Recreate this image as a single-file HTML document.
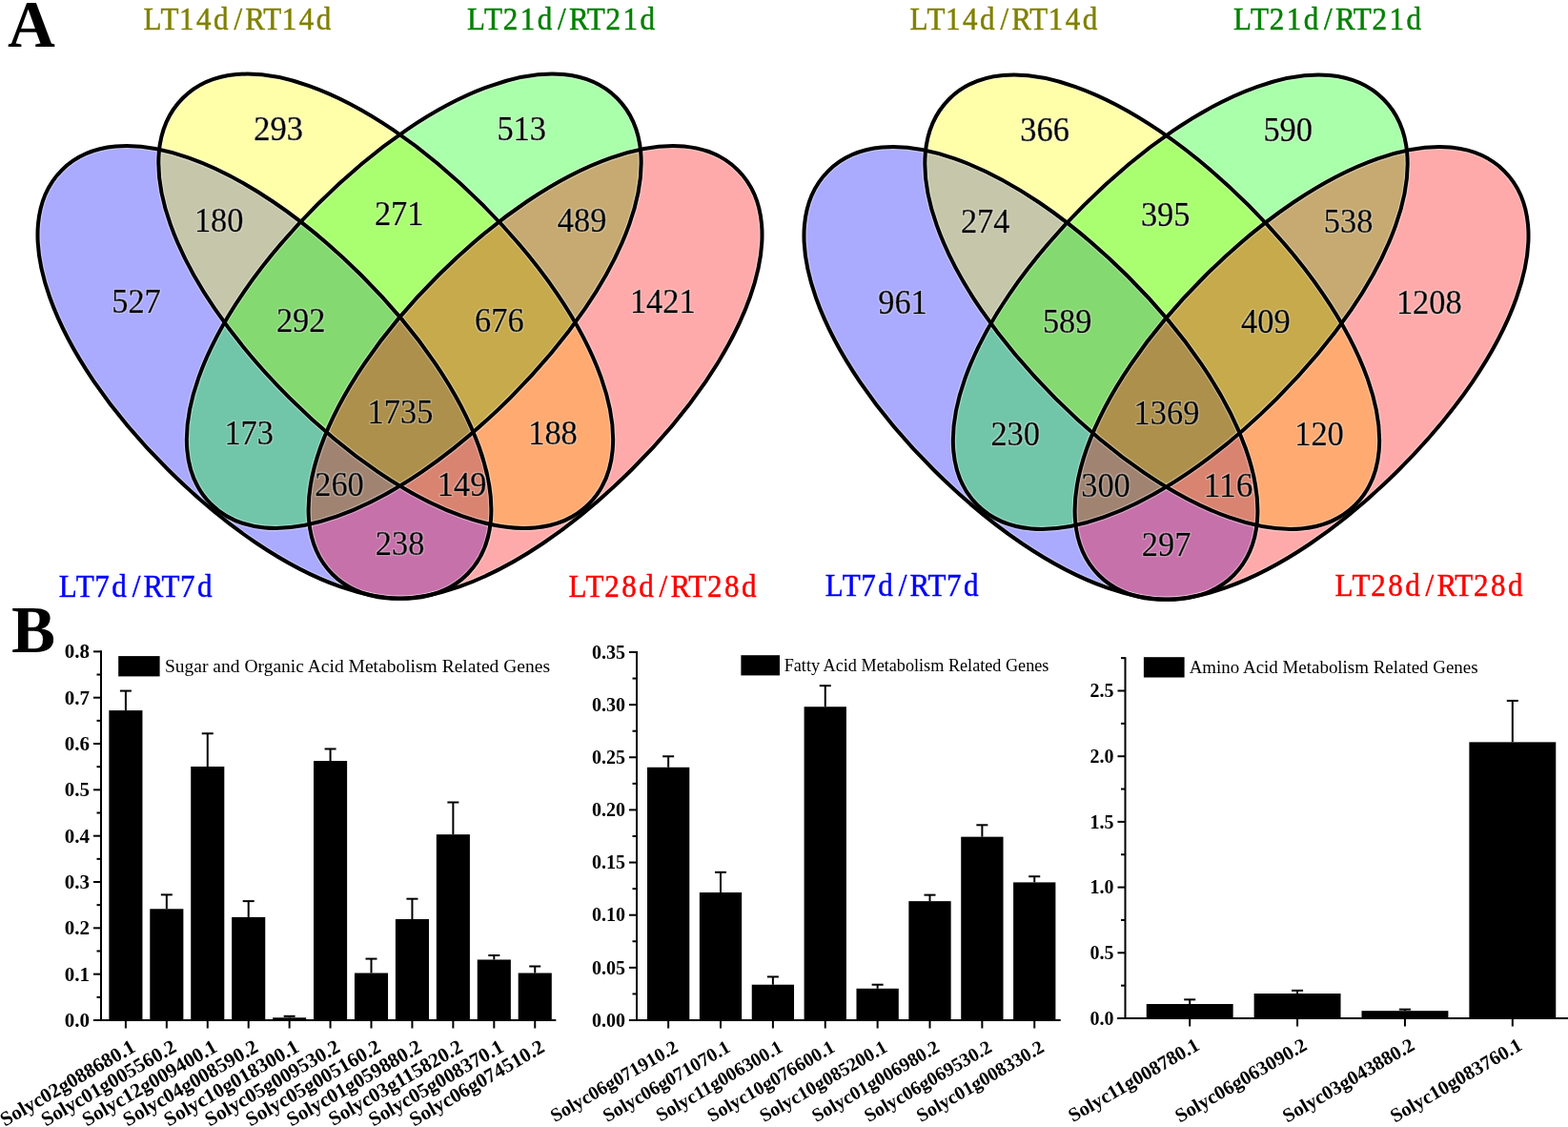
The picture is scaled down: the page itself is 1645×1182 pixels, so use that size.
<!DOCTYPE html>
<html><head><meta charset="utf-8"><title>Figure</title>
<style>html,body{margin:0;padding:0;background:#fff;}svg{display:block;}</style>
</head><body>
<svg width="1645" height="1182" viewBox="0 0 1645 1182">
<defs><filter id="halo" x="-10%" y="-20%" width="120%" height="140%"><feMorphology in="SourceAlpha" operator="dilate" radius="1.1" result="d"/><feFlood flood-color="#fff" flood-opacity="0.28"/><feComposite in2="d" operator="in" result="h"/><feMerge><feMergeNode in="h"/><feMergeNode in="SourceGraphic"/></feMerge></filter></defs>
<rect width="1645" height="1182" fill="#fff"/>
<g transform="translate(0,0)">
<path d="M300.26,0C300.26,83.27 173.94,143.75 0,143.75C-173.94,143.75 -300.26,83.27 -300.26,0C-300.26,-83.27 -173.94,-143.75 0,-143.75C173.94,-143.75 300.26,-83.27 300.26,0Z" transform="translate(277.45 390.40) rotate(44.876)" fill="#0000ff" fill-opacity="0.3333"/>
<path d="M301.11,0C301.11,83.49 175.58,143.19 0,143.19C-175.58,143.19 -301.11,83.49 -301.11,0C-301.11,-83.49 -175.58,-143.19 0,-143.19C175.58,-143.19 301.11,-83.49 301.11,0Z" transform="translate(404.74 315.74) rotate(44.959)" fill="#ffff00" fill-opacity="0.3333"/>
<path d="M301.11,0C301.11,83.49 175.58,143.19 0,143.19C-175.58,143.19 -301.11,83.49 -301.11,0C-301.11,-83.49 -175.58,-143.19 0,-143.19C175.58,-143.19 301.11,-83.49 301.11,0Z" transform="translate(434.26 315.74) rotate(-44.959)" fill="#00ff00" fill-opacity="0.3333"/>
<path d="M300.26,0C300.26,83.27 173.94,143.75 0,143.75C-173.94,143.75 -300.26,83.27 -300.26,0C-300.26,-83.27 -173.94,-143.75 0,-143.75C173.94,-143.75 300.26,-83.27 300.26,0Z" transform="translate(561.55 390.40) rotate(-44.876)" fill="#ff0000" fill-opacity="0.3333"/>
<path d="M300.26,0C300.26,83.27 173.94,143.75 0,143.75C-173.94,143.75 -300.26,83.27 -300.26,0C-300.26,-83.27 -173.94,-143.75 0,-143.75C173.94,-143.75 300.26,-83.27 300.26,0Z" transform="translate(277.45 390.40) rotate(44.876)" fill="none" stroke="#fff" stroke-opacity="0.35" stroke-width="6.4"/>
<path d="M301.11,0C301.11,83.49 175.58,143.19 0,143.19C-175.58,143.19 -301.11,83.49 -301.11,0C-301.11,-83.49 -175.58,-143.19 0,-143.19C175.58,-143.19 301.11,-83.49 301.11,0Z" transform="translate(404.74 315.74) rotate(44.959)" fill="none" stroke="#fff" stroke-opacity="0.35" stroke-width="6.4"/>
<path d="M301.11,0C301.11,83.49 175.58,143.19 0,143.19C-175.58,143.19 -301.11,83.49 -301.11,0C-301.11,-83.49 -175.58,-143.19 0,-143.19C175.58,-143.19 301.11,-83.49 301.11,0Z" transform="translate(434.26 315.74) rotate(-44.959)" fill="none" stroke="#fff" stroke-opacity="0.35" stroke-width="6.4"/>
<path d="M300.26,0C300.26,83.27 173.94,143.75 0,143.75C-173.94,143.75 -300.26,83.27 -300.26,0C-300.26,-83.27 -173.94,-143.75 0,-143.75C173.94,-143.75 300.26,-83.27 300.26,0Z" transform="translate(561.55 390.40) rotate(-44.876)" fill="none" stroke="#fff" stroke-opacity="0.35" stroke-width="6.4"/>
<path d="M300.26,0C300.26,83.27 173.94,143.75 0,143.75C-173.94,143.75 -300.26,83.27 -300.26,0C-300.26,-83.27 -173.94,-143.75 0,-143.75C173.94,-143.75 300.26,-83.27 300.26,0Z" transform="translate(277.45 390.40) rotate(44.876)" fill="none" stroke="#000" stroke-width="4.0"/>
<path d="M301.11,0C301.11,83.49 175.58,143.19 0,143.19C-175.58,143.19 -301.11,83.49 -301.11,0C-301.11,-83.49 -175.58,-143.19 0,-143.19C175.58,-143.19 301.11,-83.49 301.11,0Z" transform="translate(404.74 315.74) rotate(44.959)" fill="none" stroke="#000" stroke-width="4.0"/>
<path d="M301.11,0C301.11,83.49 175.58,143.19 0,143.19C-175.58,143.19 -301.11,83.49 -301.11,0C-301.11,-83.49 -175.58,-143.19 0,-143.19C175.58,-143.19 301.11,-83.49 301.11,0Z" transform="translate(434.26 315.74) rotate(-44.959)" fill="none" stroke="#000" stroke-width="4.0"/>
<path d="M300.26,0C300.26,83.27 173.94,143.75 0,143.75C-173.94,143.75 -300.26,83.27 -300.26,0C-300.26,-83.27 -173.94,-143.75 0,-143.75C173.94,-143.75 300.26,-83.27 300.26,0Z" transform="translate(561.55 390.40) rotate(-44.876)" fill="none" stroke="#000" stroke-width="4.0"/>
<text x="292.1" y="146.7" text-anchor="middle" textLength="51.6" lengthAdjust="spacingAndGlyphs" filter="url(#halo)" style="font-family:'Liberation Serif',serif;font-size:36px;stroke:#000;stroke-width:0.6px">293</text>
<text x="547.2" y="146.8" text-anchor="middle" textLength="51.6" lengthAdjust="spacingAndGlyphs" filter="url(#halo)" style="font-family:'Liberation Serif',serif;font-size:36px;stroke:#000;stroke-width:0.6px">513</text>
<text x="229.7" y="242.8" text-anchor="middle" textLength="51.6" lengthAdjust="spacingAndGlyphs" filter="url(#halo)" style="font-family:'Liberation Serif',serif;font-size:36px;stroke:#000;stroke-width:0.6px">180</text>
<text x="418.7" y="236.4" text-anchor="middle" textLength="51.6" lengthAdjust="spacingAndGlyphs" filter="url(#halo)" style="font-family:'Liberation Serif',serif;font-size:36px;stroke:#000;stroke-width:0.6px">271</text>
<text x="610.6" y="243.1" text-anchor="middle" textLength="51.6" lengthAdjust="spacingAndGlyphs" filter="url(#halo)" style="font-family:'Liberation Serif',serif;font-size:36px;stroke:#000;stroke-width:0.6px">489</text>
<text x="143.0" y="327.9" text-anchor="middle" textLength="51.6" lengthAdjust="spacingAndGlyphs" filter="url(#halo)" style="font-family:'Liberation Serif',serif;font-size:36px;stroke:#000;stroke-width:0.6px">527</text>
<text x="695.3" y="327.6" text-anchor="middle" textLength="68.8" lengthAdjust="spacingAndGlyphs" filter="url(#halo)" style="font-family:'Liberation Serif',serif;font-size:36px;stroke:#000;stroke-width:0.6px">1421</text>
<text x="315.7" y="348.4" text-anchor="middle" textLength="51.6" lengthAdjust="spacingAndGlyphs" filter="url(#halo)" style="font-family:'Liberation Serif',serif;font-size:36px;stroke:#000;stroke-width:0.6px">292</text>
<text x="523.9" y="348.3" text-anchor="middle" textLength="51.6" lengthAdjust="spacingAndGlyphs" filter="url(#halo)" style="font-family:'Liberation Serif',serif;font-size:36px;stroke:#000;stroke-width:0.6px">676</text>
<text x="420.0" y="444.3" text-anchor="middle" textLength="68.8" lengthAdjust="spacingAndGlyphs" filter="url(#halo)" style="font-family:'Liberation Serif',serif;font-size:36px;stroke:#000;stroke-width:0.6px">1735</text>
<text x="261.2" y="465.6" text-anchor="middle" textLength="51.6" lengthAdjust="spacingAndGlyphs" filter="url(#halo)" style="font-family:'Liberation Serif',serif;font-size:36px;stroke:#000;stroke-width:0.6px">173</text>
<text x="580.0" y="465.6" text-anchor="middle" textLength="51.6" lengthAdjust="spacingAndGlyphs" filter="url(#halo)" style="font-family:'Liberation Serif',serif;font-size:36px;stroke:#000;stroke-width:0.6px">188</text>
<text x="356.0" y="520.3" text-anchor="middle" textLength="51.6" lengthAdjust="spacingAndGlyphs" filter="url(#halo)" style="font-family:'Liberation Serif',serif;font-size:36px;stroke:#000;stroke-width:0.6px">260</text>
<text x="484.6" y="520.3" text-anchor="middle" textLength="51.6" lengthAdjust="spacingAndGlyphs" filter="url(#halo)" style="font-family:'Liberation Serif',serif;font-size:36px;stroke:#000;stroke-width:0.6px">149</text>
<text x="419.6" y="582.1" text-anchor="middle" textLength="51.6" lengthAdjust="spacingAndGlyphs" filter="url(#halo)" style="font-family:'Liberation Serif',serif;font-size:36px;stroke:#000;stroke-width:0.6px">238</text>
<text x="177.72 197.68 217.63 237.59 257.54 277.50 297.46 317.41 337.37 357.32 377.28" y="30.7" text-anchor="middle" transform="scale(0.9 1)" fill="#808000" stroke="#808000" style="font-family:'Liberation Serif',serif;font-size:34.5px;stroke-width:0.5px">LT14d/RT14d</text>
<text x="555.11 575.07 595.02 614.98 634.93 654.89 674.84 694.80 714.76 734.71 754.67" y="30.7" text-anchor="middle" transform="scale(0.9 1)" fill="#008000" stroke="#008000" style="font-family:'Liberation Serif',serif;font-size:34.5px;stroke-width:0.5px">LT21d/RT21d</text>
<text x="79.07 99.02 118.98 138.93 158.89 178.84 198.80 218.76 238.71" y="625.8" text-anchor="middle" transform="scale(0.9 1)" fill="#0000ff" stroke="#0000ff" style="font-family:'Liberation Serif',serif;font-size:34.5px;stroke-width:0.5px">LT7d/RT7d</text>
<text x="673.44 693.40 713.36 733.31 753.27 773.22 793.18 813.13 833.09 853.04 873.00" y="625.8" text-anchor="middle" transform="scale(0.9 1)" fill="#ff0000" stroke="#ff0000" style="font-family:'Liberation Serif',serif;font-size:34.5px;stroke-width:0.5px">LT28d/RT28d</text>
</g>
<g transform="translate(804,1)">
<path d="M300.26,0C300.26,83.27 173.94,143.75 0,143.75C-173.94,143.75 -300.26,83.27 -300.26,0C-300.26,-83.27 -173.94,-143.75 0,-143.75C173.94,-143.75 300.26,-83.27 300.26,0Z" transform="translate(277.45 390.40) rotate(44.876)" fill="#0000ff" fill-opacity="0.3333"/>
<path d="M301.11,0C301.11,83.49 175.58,143.19 0,143.19C-175.58,143.19 -301.11,83.49 -301.11,0C-301.11,-83.49 -175.58,-143.19 0,-143.19C175.58,-143.19 301.11,-83.49 301.11,0Z" transform="translate(404.74 315.74) rotate(44.959)" fill="#ffff00" fill-opacity="0.3333"/>
<path d="M301.11,0C301.11,83.49 175.58,143.19 0,143.19C-175.58,143.19 -301.11,83.49 -301.11,0C-301.11,-83.49 -175.58,-143.19 0,-143.19C175.58,-143.19 301.11,-83.49 301.11,0Z" transform="translate(434.26 315.74) rotate(-44.959)" fill="#00ff00" fill-opacity="0.3333"/>
<path d="M300.26,0C300.26,83.27 173.94,143.75 0,143.75C-173.94,143.75 -300.26,83.27 -300.26,0C-300.26,-83.27 -173.94,-143.75 0,-143.75C173.94,-143.75 300.26,-83.27 300.26,0Z" transform="translate(561.55 390.40) rotate(-44.876)" fill="#ff0000" fill-opacity="0.3333"/>
<path d="M300.26,0C300.26,83.27 173.94,143.75 0,143.75C-173.94,143.75 -300.26,83.27 -300.26,0C-300.26,-83.27 -173.94,-143.75 0,-143.75C173.94,-143.75 300.26,-83.27 300.26,0Z" transform="translate(277.45 390.40) rotate(44.876)" fill="none" stroke="#fff" stroke-opacity="0.35" stroke-width="6.4"/>
<path d="M301.11,0C301.11,83.49 175.58,143.19 0,143.19C-175.58,143.19 -301.11,83.49 -301.11,0C-301.11,-83.49 -175.58,-143.19 0,-143.19C175.58,-143.19 301.11,-83.49 301.11,0Z" transform="translate(404.74 315.74) rotate(44.959)" fill="none" stroke="#fff" stroke-opacity="0.35" stroke-width="6.4"/>
<path d="M301.11,0C301.11,83.49 175.58,143.19 0,143.19C-175.58,143.19 -301.11,83.49 -301.11,0C-301.11,-83.49 -175.58,-143.19 0,-143.19C175.58,-143.19 301.11,-83.49 301.11,0Z" transform="translate(434.26 315.74) rotate(-44.959)" fill="none" stroke="#fff" stroke-opacity="0.35" stroke-width="6.4"/>
<path d="M300.26,0C300.26,83.27 173.94,143.75 0,143.75C-173.94,143.75 -300.26,83.27 -300.26,0C-300.26,-83.27 -173.94,-143.75 0,-143.75C173.94,-143.75 300.26,-83.27 300.26,0Z" transform="translate(561.55 390.40) rotate(-44.876)" fill="none" stroke="#fff" stroke-opacity="0.35" stroke-width="6.4"/>
<path d="M300.26,0C300.26,83.27 173.94,143.75 0,143.75C-173.94,143.75 -300.26,83.27 -300.26,0C-300.26,-83.27 -173.94,-143.75 0,-143.75C173.94,-143.75 300.26,-83.27 300.26,0Z" transform="translate(277.45 390.40) rotate(44.876)" fill="none" stroke="#000" stroke-width="4.0"/>
<path d="M301.11,0C301.11,83.49 175.58,143.19 0,143.19C-175.58,143.19 -301.11,83.49 -301.11,0C-301.11,-83.49 -175.58,-143.19 0,-143.19C175.58,-143.19 301.11,-83.49 301.11,0Z" transform="translate(404.74 315.74) rotate(44.959)" fill="none" stroke="#000" stroke-width="4.0"/>
<path d="M301.11,0C301.11,83.49 175.58,143.19 0,143.19C-175.58,143.19 -301.11,83.49 -301.11,0C-301.11,-83.49 -175.58,-143.19 0,-143.19C175.58,-143.19 301.11,-83.49 301.11,0Z" transform="translate(434.26 315.74) rotate(-44.959)" fill="none" stroke="#000" stroke-width="4.0"/>
<path d="M300.26,0C300.26,83.27 173.94,143.75 0,143.75C-173.94,143.75 -300.26,83.27 -300.26,0C-300.26,-83.27 -173.94,-143.75 0,-143.75C173.94,-143.75 300.26,-83.27 300.26,0Z" transform="translate(561.55 390.40) rotate(-44.876)" fill="none" stroke="#000" stroke-width="4.0"/>
<text x="292.1" y="146.7" text-anchor="middle" textLength="51.6" lengthAdjust="spacingAndGlyphs" filter="url(#halo)" style="font-family:'Liberation Serif',serif;font-size:36px;stroke:#000;stroke-width:0.6px">366</text>
<text x="547.2" y="146.8" text-anchor="middle" textLength="51.6" lengthAdjust="spacingAndGlyphs" filter="url(#halo)" style="font-family:'Liberation Serif',serif;font-size:36px;stroke:#000;stroke-width:0.6px">590</text>
<text x="229.7" y="242.8" text-anchor="middle" textLength="51.6" lengthAdjust="spacingAndGlyphs" filter="url(#halo)" style="font-family:'Liberation Serif',serif;font-size:36px;stroke:#000;stroke-width:0.6px">274</text>
<text x="418.7" y="236.4" text-anchor="middle" textLength="51.6" lengthAdjust="spacingAndGlyphs" filter="url(#halo)" style="font-family:'Liberation Serif',serif;font-size:36px;stroke:#000;stroke-width:0.6px">395</text>
<text x="610.6" y="243.1" text-anchor="middle" textLength="51.6" lengthAdjust="spacingAndGlyphs" filter="url(#halo)" style="font-family:'Liberation Serif',serif;font-size:36px;stroke:#000;stroke-width:0.6px">538</text>
<text x="143.0" y="327.9" text-anchor="middle" textLength="51.6" lengthAdjust="spacingAndGlyphs" filter="url(#halo)" style="font-family:'Liberation Serif',serif;font-size:36px;stroke:#000;stroke-width:0.6px">961</text>
<text x="695.3" y="327.6" text-anchor="middle" textLength="68.8" lengthAdjust="spacingAndGlyphs" filter="url(#halo)" style="font-family:'Liberation Serif',serif;font-size:36px;stroke:#000;stroke-width:0.6px">1208</text>
<text x="315.7" y="348.4" text-anchor="middle" textLength="51.6" lengthAdjust="spacingAndGlyphs" filter="url(#halo)" style="font-family:'Liberation Serif',serif;font-size:36px;stroke:#000;stroke-width:0.6px">589</text>
<text x="523.9" y="348.3" text-anchor="middle" textLength="51.6" lengthAdjust="spacingAndGlyphs" filter="url(#halo)" style="font-family:'Liberation Serif',serif;font-size:36px;stroke:#000;stroke-width:0.6px">409</text>
<text x="420.0" y="444.3" text-anchor="middle" textLength="68.8" lengthAdjust="spacingAndGlyphs" filter="url(#halo)" style="font-family:'Liberation Serif',serif;font-size:36px;stroke:#000;stroke-width:0.6px">1369</text>
<text x="261.2" y="465.6" text-anchor="middle" textLength="51.6" lengthAdjust="spacingAndGlyphs" filter="url(#halo)" style="font-family:'Liberation Serif',serif;font-size:36px;stroke:#000;stroke-width:0.6px">230</text>
<text x="580.0" y="465.6" text-anchor="middle" textLength="51.6" lengthAdjust="spacingAndGlyphs" filter="url(#halo)" style="font-family:'Liberation Serif',serif;font-size:36px;stroke:#000;stroke-width:0.6px">120</text>
<text x="356.0" y="520.3" text-anchor="middle" textLength="51.6" lengthAdjust="spacingAndGlyphs" filter="url(#halo)" style="font-family:'Liberation Serif',serif;font-size:36px;stroke:#000;stroke-width:0.6px">300</text>
<text x="484.6" y="520.3" text-anchor="middle" textLength="51.6" lengthAdjust="spacingAndGlyphs" filter="url(#halo)" style="font-family:'Liberation Serif',serif;font-size:36px;stroke:#000;stroke-width:0.6px">116</text>
<text x="419.6" y="582.1" text-anchor="middle" textLength="51.6" lengthAdjust="spacingAndGlyphs" filter="url(#halo)" style="font-family:'Liberation Serif',serif;font-size:36px;stroke:#000;stroke-width:0.6px">297</text>
<text x="177.72 197.68 217.63 237.59 257.54 277.50 297.46 317.41 337.37 357.32 377.28" y="30.5" text-anchor="middle" transform="scale(0.9 1)" fill="#808000" stroke="#808000" style="font-family:'Liberation Serif',serif;font-size:34.5px;stroke-width:0.5px">LT14d/RT14d</text>
<text x="555.11 575.07 595.02 614.98 634.93 654.89 674.84 694.80 714.76 734.71 754.67" y="30.5" text-anchor="middle" transform="scale(0.9 1)" fill="#008000" stroke="#008000" style="font-family:'Liberation Serif',serif;font-size:34.5px;stroke-width:0.5px">LT21d/RT21d</text>
<text x="79.07 99.02 118.98 138.93 158.89 178.84 198.80 218.76 238.71" y="624.5" text-anchor="middle" transform="scale(0.9 1)" fill="#0000ff" stroke="#0000ff" style="font-family:'Liberation Serif',serif;font-size:34.5px;stroke-width:0.5px">LT7d/RT7d</text>
<text x="673.44 693.40 713.36 733.31 753.27 773.22 793.18 813.13 833.09 853.04 873.00" y="624.5" text-anchor="middle" transform="scale(0.9 1)" fill="#ff0000" stroke="#ff0000" style="font-family:'Liberation Serif',serif;font-size:34.5px;stroke-width:0.5px">LT28d/RT28d</text>
</g>
<text x="8" y="48.9" style="font-family:'Liberation Serif',serif;font-weight:bold;font-size:69px">A</text>
<text x="12" y="684.2" style="font-family:'Liberation Serif',serif;font-weight:bold;font-size:69px">B</text>
<rect x="114.35" y="745.08" width="35.10" height="324.92" fill="#000"/>
<line x1="131.90" y1="745.08" x2="131.90" y2="724.59" stroke="#000" stroke-width="2"/>
<line x1="125.90" y1="724.59" x2="137.90" y2="724.59" stroke="#000" stroke-width="2"/>
<line x1="131.90" y1="1070.00" x2="131.90" y2="1078.50" stroke="#000" stroke-width="2"/>
<text x="143.40" y="1102.00" text-anchor="end" transform="rotate(-30 143.40 1102.00)" style="font-family:'Liberation Serif',serif;font-weight:bold;font-size:21.2px">Solyc02g088680.1</text>
<rect x="157.28" y="953.28" width="35.10" height="116.72" fill="#000"/>
<line x1="174.84" y1="953.28" x2="174.84" y2="938.40" stroke="#000" stroke-width="2"/>
<line x1="168.84" y1="938.40" x2="180.84" y2="938.40" stroke="#000" stroke-width="2"/>
<line x1="174.84" y1="1070.00" x2="174.84" y2="1078.50" stroke="#000" stroke-width="2"/>
<text x="186.34" y="1102.00" text-anchor="end" transform="rotate(-30 186.34 1102.00)" style="font-family:'Liberation Serif',serif;font-weight:bold;font-size:21.2px">Solyc01g005560.2</text>
<rect x="200.22" y="803.99" width="35.10" height="266.01" fill="#000"/>
<line x1="217.77" y1="803.99" x2="217.77" y2="769.29" stroke="#000" stroke-width="2"/>
<line x1="211.77" y1="769.29" x2="223.77" y2="769.29" stroke="#000" stroke-width="2"/>
<line x1="217.77" y1="1070.00" x2="217.77" y2="1078.50" stroke="#000" stroke-width="2"/>
<text x="229.27" y="1102.00" text-anchor="end" transform="rotate(-30 229.27 1102.00)" style="font-family:'Liberation Serif',serif;font-weight:bold;font-size:21.2px">Solyc12g009400.1</text>
<rect x="243.16" y="961.89" width="35.10" height="108.11" fill="#000"/>
<line x1="260.71" y1="961.89" x2="260.71" y2="945.12" stroke="#000" stroke-width="2"/>
<line x1="254.71" y1="945.12" x2="266.71" y2="945.12" stroke="#000" stroke-width="2"/>
<line x1="260.71" y1="1070.00" x2="260.71" y2="1078.50" stroke="#000" stroke-width="2"/>
<text x="272.21" y="1102.00" text-anchor="end" transform="rotate(-30 272.21 1102.00)" style="font-family:'Liberation Serif',serif;font-weight:bold;font-size:21.2px">Solyc04g008590.2</text>
<rect x="286.09" y="1067.29" width="35.10" height="2.71" fill="#000"/>
<line x1="303.64" y1="1067.29" x2="303.64" y2="1065.80" stroke="#000" stroke-width="2"/>
<line x1="297.64" y1="1065.80" x2="309.64" y2="1065.80" stroke="#000" stroke-width="2"/>
<line x1="303.64" y1="1070.00" x2="303.64" y2="1078.50" stroke="#000" stroke-width="2"/>
<text x="315.14" y="1102.00" text-anchor="end" transform="rotate(-30 315.14 1102.00)" style="font-family:'Liberation Serif',serif;font-weight:bold;font-size:21.2px">Solyc10g018300.1</text>
<rect x="329.03" y="798.05" width="35.10" height="271.95" fill="#000"/>
<line x1="346.58" y1="798.05" x2="346.58" y2="785.48" stroke="#000" stroke-width="2"/>
<line x1="340.58" y1="785.48" x2="352.58" y2="785.48" stroke="#000" stroke-width="2"/>
<line x1="346.58" y1="1070.00" x2="346.58" y2="1078.50" stroke="#000" stroke-width="2"/>
<text x="358.08" y="1102.00" text-anchor="end" transform="rotate(-30 358.08 1102.00)" style="font-family:'Liberation Serif',serif;font-weight:bold;font-size:21.2px">Solyc05g009530.2</text>
<rect x="371.96" y="1020.51" width="35.10" height="49.49" fill="#000"/>
<line x1="389.51" y1="1020.51" x2="389.51" y2="1005.58" stroke="#000" stroke-width="2"/>
<line x1="383.51" y1="1005.58" x2="395.51" y2="1005.58" stroke="#000" stroke-width="2"/>
<line x1="389.51" y1="1070.00" x2="389.51" y2="1078.50" stroke="#000" stroke-width="2"/>
<text x="401.01" y="1102.00" text-anchor="end" transform="rotate(-30 401.01 1102.00)" style="font-family:'Liberation Serif',serif;font-weight:bold;font-size:21.2px">Solyc05g005160.2</text>
<rect x="414.90" y="964.01" width="35.10" height="105.99" fill="#000"/>
<line x1="432.45" y1="964.01" x2="432.45" y2="942.70" stroke="#000" stroke-width="2"/>
<line x1="426.45" y1="942.70" x2="438.45" y2="942.70" stroke="#000" stroke-width="2"/>
<line x1="432.45" y1="1070.00" x2="432.45" y2="1078.50" stroke="#000" stroke-width="2"/>
<text x="443.95" y="1102.00" text-anchor="end" transform="rotate(-30 443.95 1102.00)" style="font-family:'Liberation Serif',serif;font-weight:bold;font-size:21.2px">Solyc01g059880.2</text>
<rect x="457.83" y="875.18" width="35.10" height="194.82" fill="#000"/>
<line x1="475.38" y1="875.18" x2="475.38" y2="841.50" stroke="#000" stroke-width="2"/>
<line x1="469.38" y1="841.50" x2="481.38" y2="841.50" stroke="#000" stroke-width="2"/>
<line x1="475.38" y1="1070.00" x2="475.38" y2="1078.50" stroke="#000" stroke-width="2"/>
<text x="486.88" y="1102.00" text-anchor="end" transform="rotate(-30 486.88 1102.00)" style="font-family:'Liberation Serif',serif;font-weight:bold;font-size:21.2px">Solyc03g115820.2</text>
<rect x="500.77" y="1006.49" width="35.10" height="63.51" fill="#000"/>
<line x1="518.32" y1="1006.49" x2="518.32" y2="1002.00" stroke="#000" stroke-width="2"/>
<line x1="512.32" y1="1002.00" x2="524.32" y2="1002.00" stroke="#000" stroke-width="2"/>
<line x1="518.32" y1="1070.00" x2="518.32" y2="1078.50" stroke="#000" stroke-width="2"/>
<text x="529.82" y="1102.00" text-anchor="end" transform="rotate(-30 529.82 1102.00)" style="font-family:'Liberation Serif',serif;font-weight:bold;font-size:21.2px">Solyc05g008370.1</text>
<rect x="543.70" y="1020.51" width="35.10" height="49.49" fill="#000"/>
<line x1="561.25" y1="1020.51" x2="561.25" y2="1013.50" stroke="#000" stroke-width="2"/>
<line x1="555.25" y1="1013.50" x2="567.25" y2="1013.50" stroke="#000" stroke-width="2"/>
<line x1="561.25" y1="1070.00" x2="561.25" y2="1078.50" stroke="#000" stroke-width="2"/>
<text x="572.75" y="1102.00" text-anchor="end" transform="rotate(-30 572.75 1102.00)" style="font-family:'Liberation Serif',serif;font-weight:bold;font-size:21.2px">Solyc06g074510.2</text>
<line x1="106.00" y1="682.36" x2="106.00" y2="1071.00" stroke="#000" stroke-width="2"/>
<line x1="98.00" y1="1070.00" x2="583.30" y2="1070.00" stroke="#000" stroke-width="2"/>
<line x1="98.00" y1="1070.00" x2="106.00" y2="1070.00" stroke="#000" stroke-width="2"/>
<text x="94.00" y="1077.10" text-anchor="end" style="font-family:'Liberation Serif',serif;font-weight:bold;font-size:21px">0.0</text>
<line x1="101.50" y1="1045.84" x2="106.00" y2="1045.84" stroke="#000" stroke-width="2"/>
<line x1="98.00" y1="1021.67" x2="106.00" y2="1021.67" stroke="#000" stroke-width="2"/>
<text x="94.00" y="1028.77" text-anchor="end" style="font-family:'Liberation Serif',serif;font-weight:bold;font-size:21px">0.1</text>
<line x1="101.50" y1="997.50" x2="106.00" y2="997.50" stroke="#000" stroke-width="2"/>
<line x1="98.00" y1="973.34" x2="106.00" y2="973.34" stroke="#000" stroke-width="2"/>
<text x="94.00" y="980.44" text-anchor="end" style="font-family:'Liberation Serif',serif;font-weight:bold;font-size:21px">0.2</text>
<line x1="101.50" y1="949.17" x2="106.00" y2="949.17" stroke="#000" stroke-width="2"/>
<line x1="98.00" y1="925.01" x2="106.00" y2="925.01" stroke="#000" stroke-width="2"/>
<text x="94.00" y="932.11" text-anchor="end" style="font-family:'Liberation Serif',serif;font-weight:bold;font-size:21px">0.3</text>
<line x1="101.50" y1="900.85" x2="106.00" y2="900.85" stroke="#000" stroke-width="2"/>
<line x1="98.00" y1="876.68" x2="106.00" y2="876.68" stroke="#000" stroke-width="2"/>
<text x="94.00" y="883.78" text-anchor="end" style="font-family:'Liberation Serif',serif;font-weight:bold;font-size:21px">0.4</text>
<line x1="101.50" y1="852.51" x2="106.00" y2="852.51" stroke="#000" stroke-width="2"/>
<line x1="98.00" y1="828.35" x2="106.00" y2="828.35" stroke="#000" stroke-width="2"/>
<text x="94.00" y="835.45" text-anchor="end" style="font-family:'Liberation Serif',serif;font-weight:bold;font-size:21px">0.5</text>
<line x1="101.50" y1="804.18" x2="106.00" y2="804.18" stroke="#000" stroke-width="2"/>
<line x1="98.00" y1="780.02" x2="106.00" y2="780.02" stroke="#000" stroke-width="2"/>
<text x="94.00" y="787.12" text-anchor="end" style="font-family:'Liberation Serif',serif;font-weight:bold;font-size:21px">0.6</text>
<line x1="101.50" y1="755.86" x2="106.00" y2="755.86" stroke="#000" stroke-width="2"/>
<line x1="98.00" y1="731.69" x2="106.00" y2="731.69" stroke="#000" stroke-width="2"/>
<text x="94.00" y="738.79" text-anchor="end" style="font-family:'Liberation Serif',serif;font-weight:bold;font-size:21px">0.7</text>
<line x1="101.50" y1="707.52" x2="106.00" y2="707.52" stroke="#000" stroke-width="2"/>
<line x1="98.00" y1="683.36" x2="106.00" y2="683.36" stroke="#000" stroke-width="2"/>
<text x="94.00" y="690.46" text-anchor="end" style="font-family:'Liberation Serif',serif;font-weight:bold;font-size:21px">0.8</text>
<rect x="124.2" y="688.1" width="43.4" height="21.3" fill="#000"/>
<text x="172.9" y="705.3" textLength="404.1" lengthAdjust="spacingAndGlyphs" style="font-family:'Liberation Serif',serif;font-size:19.5px">Sugar and Organic Acid Metabolism Related Genes</text>
<rect x="679.00" y="804.75" width="44.30" height="265.25" fill="#000"/>
<line x1="701.15" y1="804.75" x2="701.15" y2="793.28" stroke="#000" stroke-width="2"/>
<line x1="695.15" y1="793.28" x2="707.15" y2="793.28" stroke="#000" stroke-width="2"/>
<line x1="701.15" y1="1070.00" x2="701.15" y2="1078.50" stroke="#000" stroke-width="2"/>
<text x="712.65" y="1102.00" text-anchor="end" transform="rotate(-30 712.65 1102.00)" style="font-family:'Liberation Serif',serif;font-weight:bold;font-size:20.0px">Solyc06g071910.2</text>
<rect x="733.87" y="936.00" width="44.30" height="134.00" fill="#000"/>
<line x1="756.02" y1="936.00" x2="756.02" y2="914.82" stroke="#000" stroke-width="2"/>
<line x1="750.02" y1="914.82" x2="762.02" y2="914.82" stroke="#000" stroke-width="2"/>
<line x1="756.02" y1="1070.00" x2="756.02" y2="1078.50" stroke="#000" stroke-width="2"/>
<text x="767.52" y="1102.00" text-anchor="end" transform="rotate(-30 767.52 1102.00)" style="font-family:'Liberation Serif',serif;font-weight:bold;font-size:20.0px">Solyc06g071070.1</text>
<rect x="788.74" y="1032.72" width="44.30" height="37.28" fill="#000"/>
<line x1="810.89" y1="1032.72" x2="810.89" y2="1024.45" stroke="#000" stroke-width="2"/>
<line x1="804.89" y1="1024.45" x2="816.89" y2="1024.45" stroke="#000" stroke-width="2"/>
<line x1="810.89" y1="1070.00" x2="810.89" y2="1078.50" stroke="#000" stroke-width="2"/>
<text x="822.39" y="1102.00" text-anchor="end" transform="rotate(-30 822.39 1102.00)" style="font-family:'Liberation Serif',serif;font-weight:bold;font-size:20.0px">Solyc11g006300.1</text>
<rect x="843.61" y="741.23" width="44.30" height="328.77" fill="#000"/>
<line x1="865.76" y1="741.23" x2="865.76" y2="719.17" stroke="#000" stroke-width="2"/>
<line x1="859.76" y1="719.17" x2="871.76" y2="719.17" stroke="#000" stroke-width="2"/>
<line x1="865.76" y1="1070.00" x2="865.76" y2="1078.50" stroke="#000" stroke-width="2"/>
<text x="877.26" y="1102.00" text-anchor="end" transform="rotate(-30 877.26 1102.00)" style="font-family:'Liberation Serif',serif;font-weight:bold;font-size:20.0px">Solyc10g076600.1</text>
<rect x="898.48" y="1036.80" width="44.30" height="33.20" fill="#000"/>
<line x1="920.63" y1="1036.80" x2="920.63" y2="1032.72" stroke="#000" stroke-width="2"/>
<line x1="914.63" y1="1032.72" x2="926.63" y2="1032.72" stroke="#000" stroke-width="2"/>
<line x1="920.63" y1="1070.00" x2="920.63" y2="1078.50" stroke="#000" stroke-width="2"/>
<text x="932.13" y="1102.00" text-anchor="end" transform="rotate(-30 932.13 1102.00)" style="font-family:'Liberation Serif',serif;font-weight:bold;font-size:20.0px">Solyc10g085200.1</text>
<rect x="953.35" y="945.15" width="44.30" height="124.85" fill="#000"/>
<line x1="975.50" y1="945.15" x2="975.50" y2="938.64" stroke="#000" stroke-width="2"/>
<line x1="969.50" y1="938.64" x2="981.50" y2="938.64" stroke="#000" stroke-width="2"/>
<line x1="975.50" y1="1070.00" x2="975.50" y2="1078.50" stroke="#000" stroke-width="2"/>
<text x="987.00" y="1102.00" text-anchor="end" transform="rotate(-30 987.00 1102.00)" style="font-family:'Liberation Serif',serif;font-weight:bold;font-size:20.0px">Solyc01g006980.2</text>
<rect x="1008.22" y="877.65" width="44.30" height="192.35" fill="#000"/>
<line x1="1030.37" y1="877.65" x2="1030.37" y2="865.30" stroke="#000" stroke-width="2"/>
<line x1="1024.37" y1="865.30" x2="1036.37" y2="865.30" stroke="#000" stroke-width="2"/>
<line x1="1030.37" y1="1070.00" x2="1030.37" y2="1078.50" stroke="#000" stroke-width="2"/>
<text x="1041.87" y="1102.00" text-anchor="end" transform="rotate(-30 1041.87 1102.00)" style="font-family:'Liberation Serif',serif;font-weight:bold;font-size:20.0px">Solyc06g069530.2</text>
<rect x="1063.09" y="925.41" width="44.30" height="144.59" fill="#000"/>
<line x1="1085.24" y1="925.41" x2="1085.24" y2="919.23" stroke="#000" stroke-width="2"/>
<line x1="1079.24" y1="919.23" x2="1091.24" y2="919.23" stroke="#000" stroke-width="2"/>
<line x1="1085.24" y1="1070.00" x2="1085.24" y2="1078.50" stroke="#000" stroke-width="2"/>
<text x="1096.74" y="1102.00" text-anchor="end" transform="rotate(-30 1096.74 1102.00)" style="font-family:'Liberation Serif',serif;font-weight:bold;font-size:20.0px">Solyc01g008330.2</text>
<line x1="668.00" y1="682.99" x2="668.00" y2="1071.00" stroke="#000" stroke-width="2"/>
<line x1="660.00" y1="1070.00" x2="1112.70" y2="1070.00" stroke="#000" stroke-width="2"/>
<line x1="660.00" y1="1070.00" x2="668.00" y2="1070.00" stroke="#000" stroke-width="2"/>
<text x="656.00" y="1076.76" text-anchor="end" style="font-family:'Liberation Serif',serif;font-weight:bold;font-size:20px">0.00</text>
<line x1="663.50" y1="1042.43" x2="668.00" y2="1042.43" stroke="#000" stroke-width="2"/>
<line x1="660.00" y1="1014.86" x2="668.00" y2="1014.86" stroke="#000" stroke-width="2"/>
<text x="656.00" y="1021.62" text-anchor="end" style="font-family:'Liberation Serif',serif;font-weight:bold;font-size:20px">0.05</text>
<line x1="663.50" y1="987.28" x2="668.00" y2="987.28" stroke="#000" stroke-width="2"/>
<line x1="660.00" y1="959.71" x2="668.00" y2="959.71" stroke="#000" stroke-width="2"/>
<text x="656.00" y="966.47" text-anchor="end" style="font-family:'Liberation Serif',serif;font-weight:bold;font-size:20px">0.10</text>
<line x1="663.50" y1="932.14" x2="668.00" y2="932.14" stroke="#000" stroke-width="2"/>
<line x1="660.00" y1="904.56" x2="668.00" y2="904.56" stroke="#000" stroke-width="2"/>
<text x="656.00" y="911.32" text-anchor="end" style="font-family:'Liberation Serif',serif;font-weight:bold;font-size:20px">0.15</text>
<line x1="663.50" y1="876.99" x2="668.00" y2="876.99" stroke="#000" stroke-width="2"/>
<line x1="660.00" y1="849.42" x2="668.00" y2="849.42" stroke="#000" stroke-width="2"/>
<text x="656.00" y="856.18" text-anchor="end" style="font-family:'Liberation Serif',serif;font-weight:bold;font-size:20px">0.20</text>
<line x1="663.50" y1="821.85" x2="668.00" y2="821.85" stroke="#000" stroke-width="2"/>
<line x1="660.00" y1="794.27" x2="668.00" y2="794.27" stroke="#000" stroke-width="2"/>
<text x="656.00" y="801.03" text-anchor="end" style="font-family:'Liberation Serif',serif;font-weight:bold;font-size:20px">0.25</text>
<line x1="663.50" y1="766.70" x2="668.00" y2="766.70" stroke="#000" stroke-width="2"/>
<line x1="660.00" y1="739.13" x2="668.00" y2="739.13" stroke="#000" stroke-width="2"/>
<text x="656.00" y="745.89" text-anchor="end" style="font-family:'Liberation Serif',serif;font-weight:bold;font-size:20px">0.30</text>
<line x1="663.50" y1="711.56" x2="668.00" y2="711.56" stroke="#000" stroke-width="2"/>
<line x1="660.00" y1="683.98" x2="668.00" y2="683.98" stroke="#000" stroke-width="2"/>
<text x="656.00" y="690.74" text-anchor="end" style="font-family:'Liberation Serif',serif;font-weight:bold;font-size:20px">0.35</text>
<rect x="777.4" y="687.2" width="40.6" height="21.2" fill="#000"/>
<text x="822.7" y="703.9" textLength="277.7" lengthAdjust="spacingAndGlyphs" style="font-family:'Liberation Serif',serif;font-size:18.3px">Fatty Acid Metabolism Related Genes</text>
<rect x="1202.75" y="1053.02" width="90.90" height="14.98" fill="#000"/>
<line x1="1248.20" y1="1053.02" x2="1248.20" y2="1048.35" stroke="#000" stroke-width="2"/>
<line x1="1242.20" y1="1048.35" x2="1254.20" y2="1048.35" stroke="#000" stroke-width="2"/>
<line x1="1248.20" y1="1068.00" x2="1248.20" y2="1076.50" stroke="#000" stroke-width="2"/>
<text x="1259.70" y="1100.00" text-anchor="end" transform="rotate(-30 1259.70 1100.00)" style="font-family:'Liberation Serif',serif;font-weight:bold;font-size:20.7px">Solyc11g008780.1</text>
<rect x="1315.62" y="1042.03" width="90.90" height="25.97" fill="#000"/>
<line x1="1361.07" y1="1042.03" x2="1361.07" y2="1038.87" stroke="#000" stroke-width="2"/>
<line x1="1355.07" y1="1038.87" x2="1367.07" y2="1038.87" stroke="#000" stroke-width="2"/>
<line x1="1361.07" y1="1068.00" x2="1361.07" y2="1076.50" stroke="#000" stroke-width="2"/>
<text x="1372.57" y="1100.00" text-anchor="end" transform="rotate(-30 1372.57 1100.00)" style="font-family:'Liberation Serif',serif;font-weight:bold;font-size:20.7px">Solyc06g063090.2</text>
<rect x="1428.49" y="1060.17" width="90.90" height="7.83" fill="#000"/>
<line x1="1473.94" y1="1060.17" x2="1473.94" y2="1058.66" stroke="#000" stroke-width="2"/>
<line x1="1467.94" y1="1058.66" x2="1479.94" y2="1058.66" stroke="#000" stroke-width="2"/>
<line x1="1473.94" y1="1068.00" x2="1473.94" y2="1076.50" stroke="#000" stroke-width="2"/>
<text x="1485.44" y="1100.00" text-anchor="end" transform="rotate(-30 1485.44 1100.00)" style="font-family:'Liberation Serif',serif;font-weight:bold;font-size:20.7px">Solyc03g043880.2</text>
<rect x="1541.36" y="778.36" width="90.90" height="289.64" fill="#000"/>
<line x1="1586.81" y1="778.36" x2="1586.81" y2="734.94" stroke="#000" stroke-width="2"/>
<line x1="1580.81" y1="734.94" x2="1592.81" y2="734.94" stroke="#000" stroke-width="2"/>
<line x1="1586.81" y1="1068.00" x2="1586.81" y2="1076.50" stroke="#000" stroke-width="2"/>
<text x="1598.31" y="1100.00" text-anchor="end" transform="rotate(-30 1598.31 1100.00)" style="font-family:'Liberation Serif',serif;font-weight:bold;font-size:20.7px">Solyc10g083760.1</text>
<line x1="1180.50" y1="689.15" x2="1180.50" y2="1069.00" stroke="#000" stroke-width="2"/>
<line x1="1172.20" y1="1068.00" x2="1645.00" y2="1068.00" stroke="#000" stroke-width="2"/>
<line x1="1172.50" y1="1068.00" x2="1180.50" y2="1068.00" stroke="#000" stroke-width="2"/>
<text x="1168.50" y="1074.76" text-anchor="end" style="font-family:'Liberation Serif',serif;font-weight:bold;font-size:20px">0.0</text>
<line x1="1176.00" y1="1033.65" x2="1180.50" y2="1033.65" stroke="#000" stroke-width="2"/>
<line x1="1172.50" y1="999.30" x2="1180.50" y2="999.30" stroke="#000" stroke-width="2"/>
<text x="1168.50" y="1006.06" text-anchor="end" style="font-family:'Liberation Serif',serif;font-weight:bold;font-size:20px">0.5</text>
<line x1="1176.00" y1="964.95" x2="1180.50" y2="964.95" stroke="#000" stroke-width="2"/>
<line x1="1172.50" y1="930.60" x2="1180.50" y2="930.60" stroke="#000" stroke-width="2"/>
<text x="1168.50" y="937.36" text-anchor="end" style="font-family:'Liberation Serif',serif;font-weight:bold;font-size:20px">1.0</text>
<line x1="1176.00" y1="896.25" x2="1180.50" y2="896.25" stroke="#000" stroke-width="2"/>
<line x1="1172.50" y1="861.90" x2="1180.50" y2="861.90" stroke="#000" stroke-width="2"/>
<text x="1168.50" y="868.66" text-anchor="end" style="font-family:'Liberation Serif',serif;font-weight:bold;font-size:20px">1.5</text>
<line x1="1176.00" y1="827.55" x2="1180.50" y2="827.55" stroke="#000" stroke-width="2"/>
<line x1="1172.50" y1="793.20" x2="1180.50" y2="793.20" stroke="#000" stroke-width="2"/>
<text x="1168.50" y="799.96" text-anchor="end" style="font-family:'Liberation Serif',serif;font-weight:bold;font-size:20px">2.0</text>
<line x1="1176.00" y1="758.85" x2="1180.50" y2="758.85" stroke="#000" stroke-width="2"/>
<line x1="1172.50" y1="724.50" x2="1180.50" y2="724.50" stroke="#000" stroke-width="2"/>
<text x="1168.50" y="731.26" text-anchor="end" style="font-family:'Liberation Serif',serif;font-weight:bold;font-size:20px">2.5</text>
<line x1="1176.00" y1="690.15" x2="1180.50" y2="690.15" stroke="#000" stroke-width="2"/>
<rect x="1199.9" y="689.2" width="42.7" height="21.3" fill="#000"/>
<text x="1247.7" y="706.3" textLength="302.9" lengthAdjust="spacingAndGlyphs" style="font-family:'Liberation Serif',serif;font-size:19px">Amino Acid Metabolism Related Genes</text>
</svg>
</body></html>
